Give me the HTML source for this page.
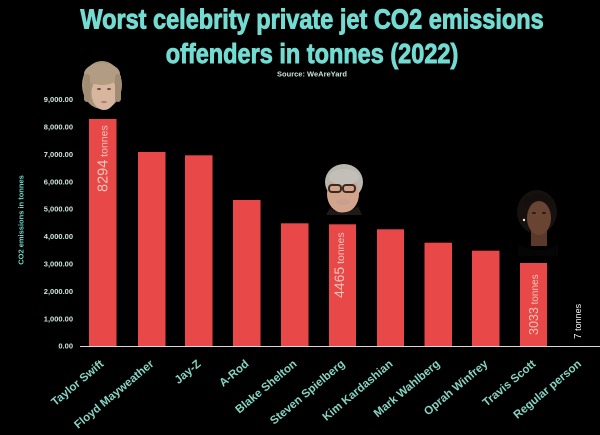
<!DOCTYPE html>
<html>
<head>
<meta charset="utf-8">
<style>
  html,body{margin:0;padding:0;background:#000;}
  svg{display:block;}
  text{font-family:"Liberation Sans",Arial,sans-serif;font-weight:bold;}
  .nb{font-weight:normal;}
</style>
</head>
<body>
<svg width="600" height="435" viewBox="0 0 600 435" xmlns="http://www.w3.org/2000/svg">
  <rect width="600" height="435" fill="#000"/>

  <!-- Title -->
  <g fill="#72dcd3" stroke="#72dcd3" stroke-width="0.9">
    <text transform="translate(312,28.7) scale(0.84,1)" text-anchor="middle" font-size="28">Worst celebrity private jet CO2 emissions</text>
    <text transform="translate(312,63) scale(0.84,1)" text-anchor="middle" font-size="28">offenders in tonnes (2022)</text>
  </g>
  <text x="312" y="76.5" text-anchor="middle" font-size="7.5" fill="#c9e6df">Source: WeAreYard</text>

  <!-- Y axis title -->
  <text transform="translate(23.5,220) rotate(-90)" text-anchor="middle" font-size="7.5" fill="#6fd8c8">CO2 emissions in tonnes</text>

  <!-- Y tick labels -->
  <g font-size="7.5" fill="#cde7df" text-anchor="end">
    <text x="73" y="348.7">0.00</text>
    <text x="73" y="321.3">1,000.00</text>
    <text x="73" y="293.9">2,000.00</text>
    <text x="73" y="266.5">3,000.00</text>
    <text x="73" y="239.1">4,000.00</text>
    <text x="73" y="211.7">5,000.00</text>
    <text x="73" y="184.3">6,000.00</text>
    <text x="73" y="156.9">7,000.00</text>
    <text x="73" y="129.5">8,000.00</text>
    <text x="73" y="102.1">9,000.00</text>
  </g>

  <!-- Bars -->
  <g fill="#e84848">
    <rect x="89" y="119" width="27.5" height="227"/>
    <rect x="138" y="152" width="27.5" height="194"/>
    <rect x="185" y="155.3" width="27.5" height="190.7"/>
    <rect x="233" y="200" width="27.5" height="146"/>
    <rect x="281" y="223.3" width="27.5" height="122.7"/>
    <rect x="329" y="224.3" width="27" height="121.7"/>
    <rect x="377" y="229.3" width="27" height="116.7"/>
    <rect x="424.5" y="242.7" width="27.5" height="103.3"/>
    <rect x="472" y="250.7" width="27.5" height="95.3"/>
    <rect x="520" y="263" width="27" height="83"/>
  </g>

  <!-- Axis line -->
  <line x1="80" y1="346.5" x2="600" y2="346.5" stroke="#d8d8d8" stroke-width="1"/>

  <!-- Value labels in bars -->
  <text class="nb" transform="translate(107.3,192) rotate(-90)" fill="#f1c6ba"><tspan class="nb" font-size="14.5">8294</tspan><tspan class="nb" font-size="10.5"> tonnes</tspan></text>
  <text class="nb" transform="translate(344,298) rotate(-90)" fill="#f1c6ba"><tspan class="nb" font-size="14">4465</tspan><tspan class="nb" font-size="10.5"> tonnes</tspan></text>
  <text class="nb" transform="translate(537.8,335) rotate(-90)" fill="#f1c6ba"><tspan class="nb" font-size="12.5">3033</tspan><tspan class="nb" font-size="10"> tonnes</tspan></text>
  <text class="nb" transform="translate(581,339) rotate(-90)" fill="#f4f4f4"><tspan class="nb" font-size="10">7</tspan><tspan class="nb" font-size="9"> tonnes</tspan></text>

  <!-- X labels -->
  <g font-size="11.5" fill="#86d4c4" text-anchor="end">
    <text transform="translate(104.5,365) rotate(-40)">Taylor Swift</text>
    <text transform="translate(154.5,365) rotate(-40)">Floyd Mayweather</text>
    <text transform="translate(201.5,365) rotate(-40)">Jay-Z</text>
    <text transform="translate(249.5,365) rotate(-40)">A-Rod</text>
    <text transform="translate(297.5,365) rotate(-40)">Blake Shelton</text>
    <text transform="translate(345.5,365) rotate(-40)">Steven Spielberg</text>
    <text transform="translate(393.5,365) rotate(-40)">Kim Kardashian</text>
    <text transform="translate(440.5,365) rotate(-40)">Mark Wahlberg</text>
    <text transform="translate(488.5,365) rotate(-40)">Oprah Winfrey</text>
    <text transform="translate(536.5,365) rotate(-40)">Travis Scott</text>
    <text transform="translate(582,365) rotate(-40)">Regular person</text>
  </g>

  <!-- Taylor face -->
  <g>
    <ellipse cx="102" cy="85" rx="20" ry="24" fill="#a8947a"/>
    <ellipse cx="104" cy="93" rx="12.5" ry="17" fill="#d7b59f"/>
    <ellipse cx="102" cy="74" rx="18" ry="11" fill="#b29d83"/>
    <rect x="84" y="74" width="6" height="28" rx="3" fill="#a08c72"/>
    <rect x="115" y="74" width="6" height="28" rx="3" fill="#a08c72"/>
    <ellipse cx="99" cy="89" rx="2" ry="1" fill="#6a5040"/>
    <ellipse cx="109" cy="89" rx="2" ry="1" fill="#6a5040"/>
    <ellipse cx="104" cy="102" rx="3" ry="1" fill="#b07a70"/>
  </g>

  <!-- Spielberg face -->
  <g>
    <ellipse cx="344" cy="182" rx="19" ry="18" fill="#bab7b1"/>
    <ellipse cx="343" cy="194" rx="16" ry="19" fill="#d2a48c"/>
    <ellipse cx="344" cy="177" rx="15" ry="8" fill="#c2beb8"/>
    <rect x="329" y="185" width="12" height="7" rx="3" fill="none" stroke="#3a2a22" stroke-width="2"/>
    <rect x="343" y="185" width="12" height="7" rx="3" fill="none" stroke="#3a2a22" stroke-width="2"/>
    <ellipse cx="343" cy="202" rx="7" ry="3" fill="#c8a090"/>
    <path d="M330 208 Q343 218 358 206 L362 215 L326 215 Z" fill="#1e1a18"/>
  </g>

  <!-- Travis face -->
  <g>
    <ellipse cx="537" cy="212" rx="20" ry="22" fill="#16110e"/>
    <rect x="531" y="228" width="16" height="18" fill="#5a392a"/>
    <ellipse cx="539" cy="218" rx="12" ry="17" fill="#6a4433"/>
    <path d="M525 205 Q538 194 552 205 L552 199 Q538 188 524 199 Z" fill="#140f0c"/>
    <ellipse cx="534" cy="213" rx="2" ry="1" fill="#2a1a12"/>
    <ellipse cx="544" cy="213" rx="2" ry="1" fill="#2a1a12"/>
    <circle cx="524" cy="220" r="1.2" fill="#eee"/>
    <path d="M518 244 Q538 256 558 244 L558 256 L518 256 Z" fill="#050505"/>
  </g>
</svg>
</body>
</html>
